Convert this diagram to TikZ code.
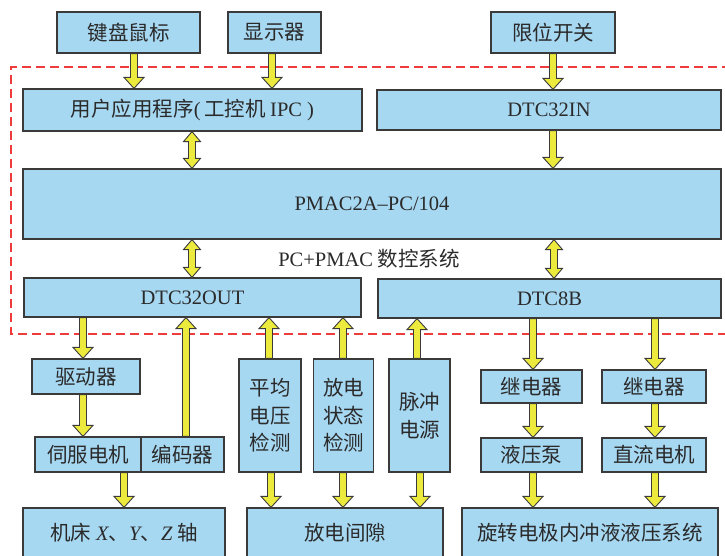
\documentclass[tikz,border=0pt]{standalone}
\usepackage{fontspec}
\setmainfont{Liberation Serif}
\newfontfamily\cjk{Noto Sans CJK SC}
\usetikzlibrary{calc}
\definecolor{boxfill}{HTML}{A7D8F2}
\definecolor{boxline}{HTML}{3A3A3A}
\definecolor{arrfill}{HTML}{EDEA3E}
\definecolor{arrline}{HTML}{3A3A3A}
\definecolor{sysred}{HTML}{EE3B3B}
\definecolor{txt}{HTML}{2A2A2A}
\newcommand\fs{\fontsize{20.5}{27.5}\selectfont}
\newcommand\latn{\rmfamily}
\def\sw{3.5pt}\def\hw{10pt}\def\hl{11pt}
\def\dhw{8.5pt}\def\dhl{10pt}
% down arrow: x from #1, from top #2 to bottom #3
\newcommand\arrD[3]{\draw[arr] let \p1=#1,\p2=#2,\p3=#3 in
  (\x1-\sw,\y2) -- (\x1-\sw,\y3+\hl) -- (\x1-\hw,\y3+\hl) -- (\x1,\y3)
  -- (\x1+\hw,\y3+\hl) -- (\x1+\sw,\y3+\hl) -- (\x1+\sw,\y2) -- cycle;}
% up arrow: head at top #2
\newcommand\arrU[3]{\draw[arr] let \p1=#1,\p2=#2,\p3=#3 in
  (\x1-\sw,\y3) -- (\x1-\sw,\y2-\hl) -- (\x1-\hw,\y2-\hl) -- (\x1,\y2)
  -- (\x1+\hw,\y2-\hl) -- (\x1+\sw,\y2-\hl) -- (\x1+\sw,\y3) -- cycle;}
% double arrow
\newcommand\arrB[3]{\draw[arr] let \p1=#1,\p2=#2,\p3=#3 in
  (\x1,\y2) -- (\x1+\dhw,\y2-\dhl) -- (\x1+\sw,\y2-\dhl) -- (\x1+\sw,\y3+\dhl)
  -- (\x1+\dhw,\y3+\dhl) -- (\x1,\y3) -- (\x1-\dhw,\y3+\dhl) -- (\x1-\sw,\y3+\dhl)
  -- (\x1-\sw,\y2-\dhl) -- (\x1-\dhw,\y2-\dhl) -- cycle;}
\tikzset{
  box/.style={draw=boxline, fill=boxfill, line width=1.2pt, inner sep=0pt,
    text=txt, font=\fs\cjk, align=center},
  arr/.style={draw=arrline, fill=arrfill, line width=0.9pt, line join=miter},
  sysline/.style={draw=sysred, line width=1.2pt, dash pattern=on 9pt off 5pt},
  lbl/.style={text=txt, font=\fs\cjk, inner sep=0pt}
}
\begin{document}
\begin{tikzpicture}[x=1pt,y=-1pt]
\useasboundingbox (0,0) rectangle (725,556);
% system frame (open on the right)
\draw[sysline] (745,67) -- (11,67) -- (11,334) -- (745,334);
\node[lbl] (sys) at (369,259) {{\latn PC+PMAC} 数控系统};
% top row
\node[box, minimum width=143pt, minimum height=41pt] (kb) at (128.5,32.5) {键盘鼠标};
\node[box, minimum width=93pt, minimum height=41pt] (disp) at (274.5,32.5) {显示器};
\node[box, minimum width=124pt, minimum height=41pt] (lim) at (553,32.5) {限位开关};
% system
\node[box, minimum width=339pt, minimum height=42pt] (app) at (192.5,110) {用户应用程序{\latn (\,}工控机 {\latn IPC )}};
\node[box, minimum width=344pt, minimum height=40pt] (in) at (549,110) {\latn DTC32IN};
\node[box, minimum width=698pt, minimum height=70pt] (pmac) at (372,204) {\latn PMAC2A–PC/104};
\node[box, minimum width=337pt, minimum height=39pt] (out) at (192.5,297.5) {\latn DTC32OUT};
\node[box, minimum width=343pt, minimum height=39pt] (dtc8b) at (549.5,298.5) {\latn DTC8B};
% lower blocks
\node[box, minimum width=108pt, minimum height=35pt] (drv) at (86,376.5) {驱动器};
\node[box, minimum width=106pt, minimum height=35pt] (servo) at (88,454.5) {伺服电机};
\node[box, minimum width=83pt, minimum height=35pt] (enc) at (182.5,454.5) {编码器};
\node[box, minimum width=62pt, minimum height=113pt] (avg) at (270,415.5) {平均\\电压\\检测};
\node[box, minimum width=60pt, minimum height=113pt] (stat) at (343.5,415.5) {放电\\状态\\检测};
\node[box, minimum width=61pt, minimum height=113pt] (pulse) at (419.5,415.5) {脉冲\\电源};
\node[box, minimum width=101pt, minimum height=33pt] (relay1) at (531.5,386.5) {继电器};
\node[box, minimum width=104pt, minimum height=33pt] (relay2) at (654,386.5) {继电器};
\node[box, minimum width=101pt, minimum height=34pt] (pump) at (531.5,455) {液压泵};
\node[box, minimum width=104pt, minimum height=34pt] (dcm) at (654,455) {直流电机};
% bottom row (cut by page edge)
\node[box, minimum width=202pt, minimum height=50pt] (axis) at (124,533) {机床 {\latn\itshape X}、{\latn\itshape Y}、{\latn\itshape Z} 轴};
\node[box, minimum width=196pt, minimum height=50pt] (gap) at (345,533) {放电间隙};
\node[box, minimum width=256pt, minimum height=50pt] (hyd) at (590,533) {旋转电极内冲液液压系统};
% arrows
\arrD{([xshift=5.5pt]kb.south)}{(kb.south)}{(app.north)}
\arrD{([xshift=-2.5pt]disp.south)}{(disp.south)}{(app.north)}
\arrD{(lim.south)}{(lim.south)}{(in.north)}
\arrB{([xshift=-0.5pt]app.south)}{(app.south)}{(pmac.north)}
\arrD{([xshift=4pt]in.south)}{(in.south)}{(pmac.north)}
\arrB{([xshift=-0.5pt]out.north)}{(pmac.south)}{(out.north)}
\arrB{([xshift=4.5pt]dtc8b.north)}{(pmac.south)}{(dtc8b.north)}
\arrD{([xshift=-3pt]drv.north)}{(out.south)}{(drv.north)}
\arrU{([xshift=3.5pt]enc.north)}{(out.south)}{(enc.north)}
\arrU{([xshift=-1pt]avg.north)}{(out.south)}{(avg.north)}
\arrU{([xshift=-0.5pt]stat.north)}{(out.south)}{(stat.north)}
\arrU{([xshift=-2.5pt]pulse.north)}{(dtc8b.south)}{(pulse.north)}
\arrD{([xshift=1.5pt]relay1.north)}{(dtc8b.south)}{(relay1.north)}
\arrD{([xshift=1pt]relay2.north)}{(dtc8b.south)}{(relay2.north)}
\arrD{([xshift=-3pt]drv.south)}{(drv.south)}{(servo.north)}
\arrD{(axis.north)}{(servo.south)}{(axis.north)}
\arrD{([xshift=1pt]avg.south)}{(avg.south)}{(gap.north)}
\arrD{([xshift=-0.5pt]stat.south)}{(stat.south)}{(gap.north)}
\arrD{([xshift=0.5pt]pulse.south)}{(pulse.south)}{(gap.north)}
\arrD{([xshift=1.5pt]relay1.south)}{(relay1.south)}{(pump.north)}
\arrD{([xshift=1pt]relay2.south)}{(relay2.south)}{(dcm.north)}
\arrD{([xshift=1.5pt]pump.south)}{(pump.south)}{(hyd.north)}
\arrD{([xshift=1pt]dcm.south)}{(dcm.south)}{(hyd.north)}
\end{tikzpicture}
\end{document}
